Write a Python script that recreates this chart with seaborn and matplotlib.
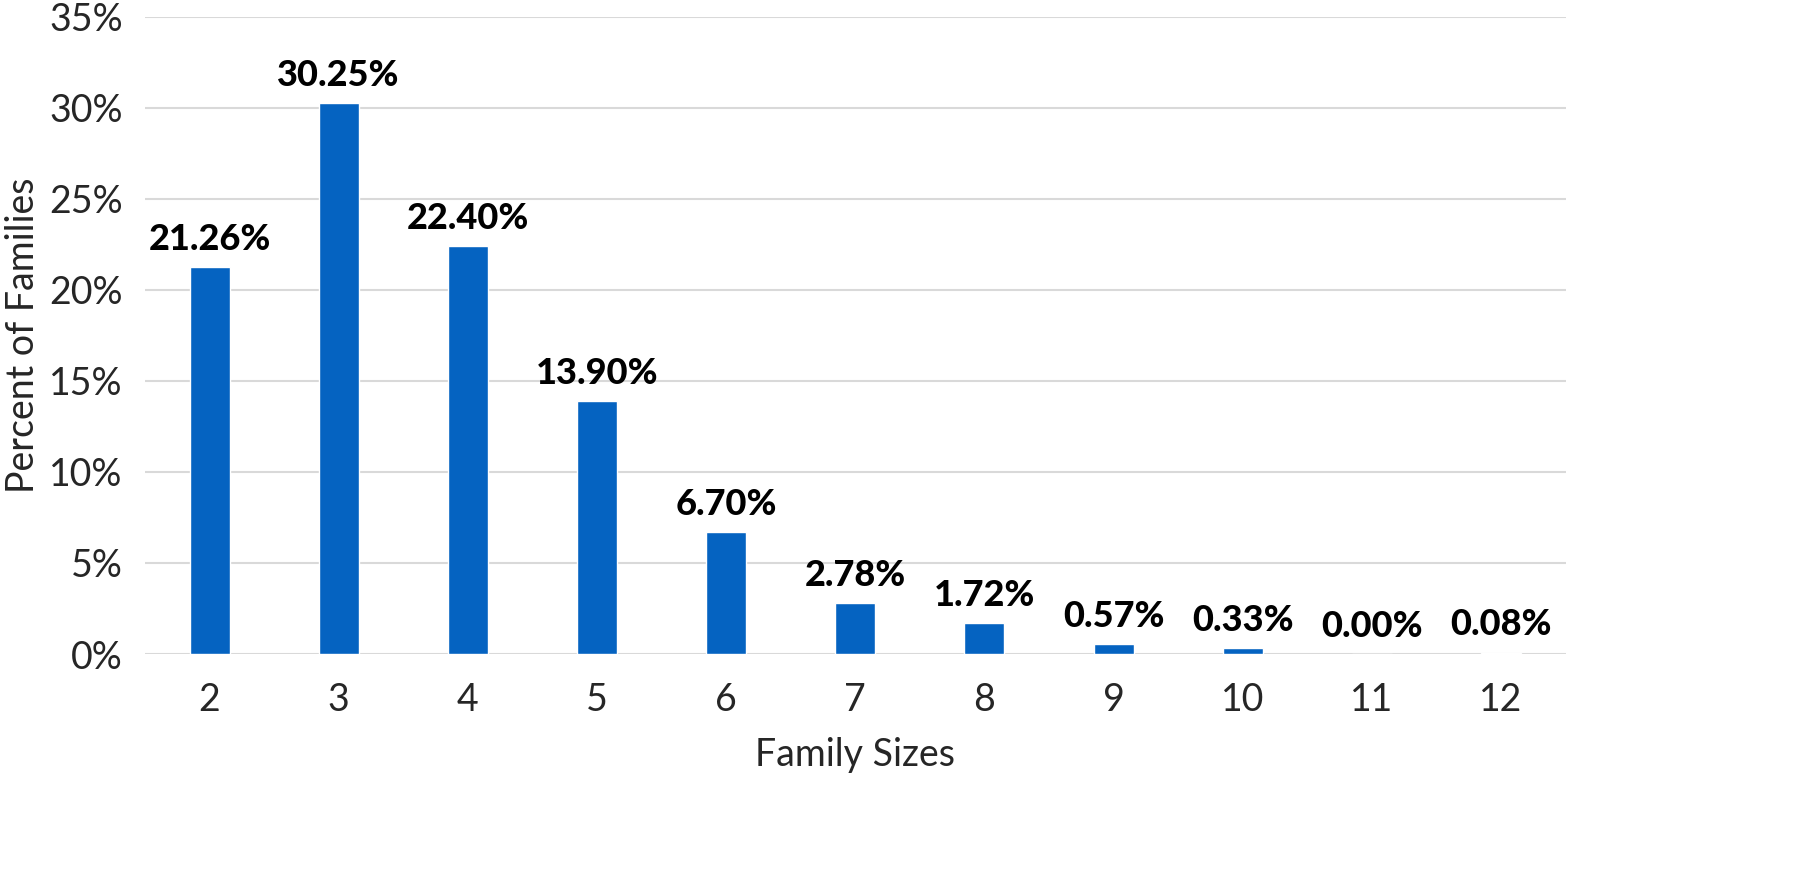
import pandas as pd
import matplotlib.pyplot as plt
import seaborn as sns
from matplotlib.ticker import FuncFormatter

# data
family_sizes = ["2", "3", "4", "5", "6", "7", "8", "9", "10", "11", "12"]
pct_families = [21.26, 30.25, 22.40, 13.90, 6.70, 2.78, 1.72, 0.57, 0.33, 0.00, 0.08]

df = pd.DataFrame({"size": family_sizes, "pct": pct_families})

sns.set_style("white")
plt.rcParams["font.family"] = ["Lato", "DejaVu Sans"]

fig = plt.figure(figsize=(18.12, 8.85), dpi=100)
ax = fig.add_axes([0.080, 0.261, 0.784, 0.720])

sns.barplot(data=df, x="size", y="pct", color="#0563C1", width=0.31,
            saturation=1, ax=ax, zorder=3)

ax.set_ylim(0, 35)
ax.set_yticks(range(0, 36, 5))
ax.yaxis.set_major_formatter(FuncFormatter(lambda v, p: f"{v:.0f}%"))
ax.grid(axis="y", color="#D9D9D9", linewidth=1.5, zorder=0)
ax.set_axisbelow(True)
sns.despine(ax=ax, left=True, bottom=True, top=True, right=True)

ax.tick_params(axis="both", length=0, labelsize=27, colors="#262626")
ax.tick_params(axis="x", pad=20)
ax.tick_params(axis="y", pad=16)

for i, v in enumerate(pct_families):
    ax.annotate(f"{v:.2f}%", (i, v), xytext=(0, 8), textcoords="offset points",
                ha="center", va="bottom", fontsize=26, fontweight="black",
                color="black")

ax.set_xlabel("Family Sizes", fontsize=27, color="#262626", labelpad=14)
ax.set_ylabel("Percent of Families", fontsize=27, color="#262626", labelpad=6)

plt.savefig("out.png", dpi=100)
plt.close()
